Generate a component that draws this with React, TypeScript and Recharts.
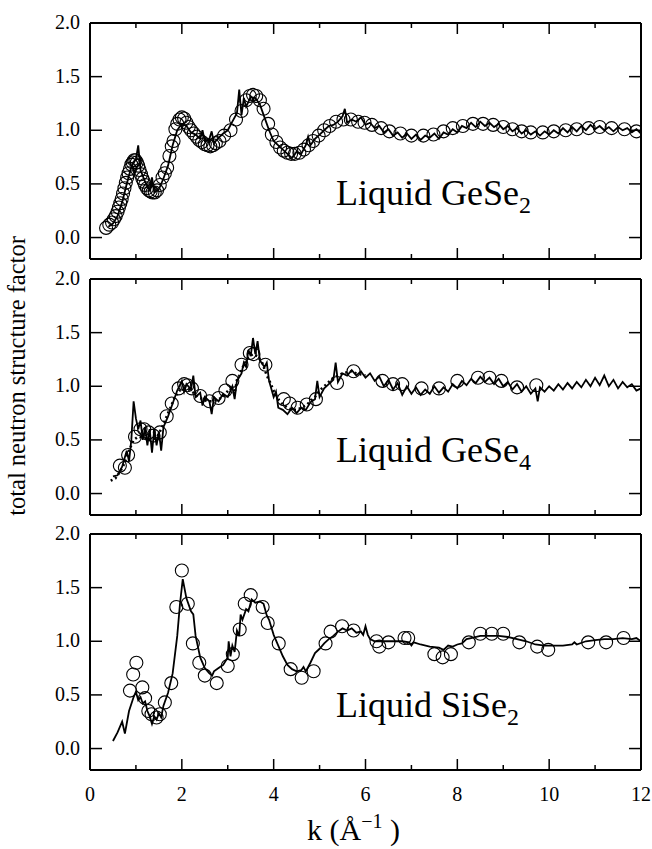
import React from 'react';
import { ComposedChart, Line, Scatter, XAxis, YAxis } from 'recharts';

// k (1/Å) and S(k) pairs
const geSe2Circles: [number, number][] = [
  [0.35, 0.09], [0.42, 0.12], [0.48, 0.14], [0.52, 0.17], [0.56, 0.2], [0.6, 0.24], [0.63, 0.28],
  [0.66, 0.32], [0.69, 0.36], [0.72, 0.41], [0.75, 0.46], [0.78, 0.51], [0.81, 0.56], [0.84, 0.6],
  [0.87, 0.64], [0.9, 0.68], [0.93, 0.7], [0.96, 0.72], [0.99, 0.72], [1.02, 0.7], [1.05, 0.67],
  [1.08, 0.63], [1.11, 0.59], [1.14, 0.55], [1.17, 0.52], [1.2, 0.49], [1.24, 0.46], [1.28, 0.44],
  [1.32, 0.43], [1.36, 0.42], [1.41, 0.42], [1.46, 0.44], [1.52, 0.49], [1.58, 0.56], [1.63, 0.6],
  [1.68, 0.65], [1.73, 0.76], [1.78, 0.85], [1.82, 0.9], [1.86, 1.01], [1.9, 1.06], [1.95, 1.1],
  [2.0, 1.12], [2.05, 1.11], [2.1, 1.07], [2.15, 1.03], [2.2, 1.0], [2.26, 0.97], [2.32, 0.94],
  [2.38, 0.91], [2.44, 0.89], [2.5, 0.87], [2.56, 0.86], [2.62, 0.85], [2.68, 0.86], [2.74, 0.88],
  [2.82, 0.9], [2.92, 0.95], [3.06, 1.0], [3.18, 1.1], [3.3, 1.18], [3.4, 1.28], [3.48, 1.32],
  [3.55, 1.33], [3.62, 1.32], [3.7, 1.28], [3.78, 1.2], [3.88, 1.06], [3.96, 0.96], [4.06, 0.89],
  [4.14, 0.84], [4.22, 0.81], [4.3, 0.79], [4.38, 0.78], [4.46, 0.78], [4.56, 0.79], [4.66, 0.82],
  [4.76, 0.86], [4.86, 0.9], [4.98, 0.95], [5.1, 1.0], [5.22, 1.04], [5.36, 1.08], [5.52, 1.1],
  [5.68, 1.1], [5.84, 1.08], [5.98, 1.07], [6.14, 1.05], [6.34, 1.02], [6.52, 0.99], [6.76, 0.97],
  [7.0, 0.95], [7.26, 0.95], [7.48, 0.96], [7.7, 0.99], [7.9, 1.02], [8.12, 1.04], [8.34, 1.06],
  [8.56, 1.06], [8.78, 1.05], [9.0, 1.03], [9.2, 1.01], [9.4, 0.99], [9.6, 0.98], [9.86, 0.98],
  [10.1, 0.99], [10.36, 1.0], [10.6, 1.01], [10.86, 1.02], [11.1, 1.03], [11.36, 1.02],
  [11.64, 1.01], [11.9, 0.99],
];

const geSe2Line: [number, number][] = [
  [0.4, 0.1], [0.5, 0.13], [0.6, 0.2], [0.7, 0.33], [0.8, 0.5], [0.9, 0.66], [1.0, 0.73], [1.05, 0.86],
  [1.1, 0.63], [1.2, 0.52], [1.3, 0.44], [1.35, 0.56], [1.4, 0.42], [1.5, 0.45], [1.6, 0.55], [1.7, 0.67],
  [1.8, 0.86], [1.9, 1.0], [2.0, 1.06], [2.1, 1.04], [2.2, 0.98], [2.3, 0.96], [2.4, 0.92], [2.45, 1.0],
  [2.5, 0.9], [2.6, 0.92], [2.65, 0.99], [2.7, 0.88], [2.8, 0.93], [2.9, 0.97], [3.0, 1.0], [3.1, 1.08],
  [3.2, 1.16], [3.25, 1.38], [3.3, 1.14], [3.35, 1.3], [3.4, 1.22], [3.5, 1.31], [3.6, 1.3], [3.7, 1.24],
  [3.8, 1.12], [3.9, 1.0], [4.0, 0.9], [4.1, 0.86], [4.2, 0.82], [4.3, 0.78], [4.4, 0.74], [4.5, 0.8],
  [4.6, 0.78], [4.7, 0.86], [4.75, 0.94], [4.8, 0.86], [4.9, 0.92], [5.0, 0.96], [5.1, 1.0], [5.2, 1.04],
  [5.3, 1.05], [5.4, 1.08], [5.5, 1.13], [5.55, 1.2], [5.6, 1.07], [5.7, 1.1], [5.8, 1.08], [5.9, 1.12],
  [6.0, 1.05], [6.1, 1.07], [6.2, 1.02], [6.3, 1.04], [6.4, 0.98], [6.5, 1.01], [6.6, 0.95], [6.7, 0.98],
  [6.8, 0.93], [6.9, 0.97], [7.0, 0.92], [7.1, 0.96], [7.2, 0.91], [7.3, 0.95], [7.4, 0.93], [7.5, 0.97],
  [7.6, 0.92], [7.7, 0.98], [7.8, 0.96], [7.9, 1.01], [8.0, 0.98], [8.1, 1.04], [8.2, 1.02], [8.3, 1.07],
  [8.4, 1.03], [8.5, 1.08], [8.6, 1.04], [8.7, 1.07], [8.8, 1.03], [8.9, 1.06], [9.0, 1.01], [9.1, 1.04],
  [9.2, 0.99], [9.3, 1.02], [9.4, 0.97], [9.5, 1.0], [9.6, 0.96], [9.7, 0.99], [9.8, 0.95], [9.9, 0.99],
  [10.0, 0.96], [10.1, 1.0], [10.2, 0.97], [10.3, 1.02], [10.4, 0.98], [10.5, 1.03], [10.6, 0.99],
  [10.7, 1.04], [10.8, 1.0], [10.9, 1.05], [11.0, 1.01], [11.1, 1.04], [11.2, 1.0], [11.3, 1.03],
  [11.4, 0.99], [11.5, 1.03], [11.6, 1.0], [11.7, 1.02], [11.8, 0.98], [11.9, 1.01], [12.0, 0.97],
];

const geSe4Circles: [number, number][] = [
  [0.65, 0.26], [0.76, 0.24], [0.83, 0.36], [0.98, 0.53], [1.1, 0.6], [1.18, 0.6], [1.28, 0.57],
  [1.38, 0.54], [1.52, 0.57], [1.67, 0.72], [1.78, 0.84], [1.93, 0.98], [2.05, 1.02], [2.12, 1.01],
  [2.22, 0.98], [2.4, 0.91], [2.6, 0.86], [2.8, 0.89], [2.95, 0.96], [3.1, 1.05], [3.3, 1.2],
  [3.48, 1.31], [3.56, 1.3], [3.82, 1.2], [4.22, 0.88], [4.35, 0.84], [4.52, 0.8], [4.72, 0.83],
  [4.92, 0.88], [5.38, 1.03], [5.74, 1.14], [6.37, 1.05], [6.6, 1.02], [6.8, 1.02], [7.22, 0.98],
  [7.6, 0.98], [8.0, 1.05], [8.45, 1.08], [8.7, 1.08], [8.96, 1.05], [9.3, 0.99], [9.72, 1.01],
];

const geSe4Line: [number, number][] = [
  [0.5, 0.16], [0.6, 0.17], [0.7, 0.25], [0.8, 0.4], [0.85, 0.3], [0.9, 0.5], [0.95, 0.86], [1.0, 0.7],
  [1.05, 0.6], [1.1, 0.68], [1.15, 0.5], [1.2, 0.62], [1.25, 0.45], [1.3, 0.6], [1.35, 0.38], [1.4, 0.6],
  [1.45, 0.45], [1.5, 0.58], [1.55, 0.4], [1.6, 0.62], [1.7, 0.72], [1.8, 0.84], [1.9, 0.96], [2.0, 1.05],
  [2.05, 0.95], [2.1, 1.02], [2.2, 0.97], [2.25, 1.1], [2.3, 0.9], [2.4, 0.94], [2.45, 0.82], [2.5, 0.9],
  [2.6, 0.86], [2.65, 0.74], [2.7, 0.9], [2.8, 0.86], [2.9, 0.93], [3.0, 0.9], [3.1, 1.0], [3.15, 0.88],
  [3.2, 1.05], [3.3, 1.12], [3.35, 1.22], [3.4, 1.18], [3.45, 1.34], [3.5, 1.28], [3.55, 1.45], [3.6, 1.3],
  [3.65, 1.42], [3.7, 1.24], [3.8, 1.18], [3.85, 1.22], [3.9, 1.05], [4.0, 0.9], [4.05, 0.95], [4.1, 0.8],
  [4.2, 0.78], [4.3, 0.74], [4.4, 0.8], [4.5, 0.75], [4.6, 0.8], [4.7, 0.78], [4.8, 0.85], [4.9, 0.88],
  [4.95, 1.05], [5.0, 0.9], [5.1, 0.98], [5.2, 1.02], [5.3, 1.06], [5.35, 1.22], [5.4, 1.04], [5.5, 1.12],
  [5.6, 1.1], [5.7, 1.15], [5.8, 1.1], [5.9, 1.14], [6.0, 1.08], [6.1, 1.12], [6.2, 1.05], [6.3, 1.09],
  [6.4, 1.0], [6.5, 1.06], [6.6, 0.97], [6.7, 1.03], [6.8, 0.92], [6.9, 1.0], [7.0, 0.93], [7.1, 0.99],
  [7.2, 0.92], [7.3, 0.97], [7.4, 0.93], [7.5, 1.0], [7.6, 0.94], [7.7, 0.99], [7.8, 0.95], [7.9, 1.02],
  [8.0, 0.98], [8.1, 1.05], [8.2, 1.01], [8.3, 1.07], [8.4, 1.03], [8.5, 1.09], [8.6, 1.04], [8.7, 1.08],
  [8.8, 1.02], [8.9, 1.07], [9.0, 1.0], [9.1, 1.04], [9.2, 0.97], [9.3, 1.02], [9.4, 0.95], [9.5, 1.0],
  [9.6, 0.93], [9.7, 0.98], [9.75, 0.86], [9.8, 0.99], [9.9, 0.95], [10.0, 1.0], [10.1, 0.96], [10.2, 1.02],
  [10.3, 0.97], [10.4, 1.03], [10.5, 0.98], [10.6, 1.04], [10.7, 0.99], [10.8, 1.06], [10.9, 1.0],
  [11.0, 1.08], [11.1, 1.01], [11.2, 1.1], [11.3, 1.0], [11.4, 1.06], [11.5, 0.98], [11.6, 1.04],
  [11.7, 0.99], [11.8, 1.02], [11.9, 0.96], [12.0, 0.98],
];

const geSe4Dotted: [number, number][] = [
  [0.45, 0.12], [0.55, 0.14], [0.65, 0.2], [0.75, 0.28], [0.85, 0.4], [0.95, 0.5], [1.05, 0.53],
  [1.15, 0.52], [1.25, 0.5], [1.35, 0.5], [1.45, 0.52], [1.55, 0.6], [1.65, 0.7], [1.75, 0.8],
  [1.85, 0.9], [1.95, 0.96], [2.05, 0.98], [2.15, 0.97], [2.25, 0.94], [2.35, 0.9], [2.45, 0.88],
  [2.55, 0.86], [2.65, 0.86], [2.75, 0.87], [2.85, 0.89], [2.95, 0.93], [3.05, 0.98], [3.15, 0.93],
  [3.2, 1.06], [3.25, 1.1], [3.35, 1.2], [3.45, 1.27], [3.55, 1.3], [3.65, 1.28], [3.75, 1.22],
  [3.85, 1.1], [3.92, 1.04], [4.0, 0.96], [4.1, 0.88], [4.2, 0.83], [4.3, 0.8], [4.4, 0.78],
  [4.5, 0.78], [4.6, 0.8], [4.7, 0.82], [4.8, 0.86], [4.9, 0.9], [5.0, 0.96], [5.1, 1.0], [5.2, 1.04],
  [5.3, 1.08], [5.4, 1.1], [5.5, 1.12], [5.6, 1.13], [5.7, 1.14], [5.8, 1.12], [5.9, 1.11], [6.0, 1.1],
];

const siSe2Circles: [number, number][] = [
  [0.87, 0.54], [0.94, 0.69], [1.01, 0.8], [1.14, 0.57], [1.2, 0.47], [1.27, 0.35], [1.34, 0.32],
  [1.45, 0.29], [1.52, 0.32], [1.63, 0.43], [1.77, 0.61], [1.88, 1.32], [2.0, 1.66], [2.13, 1.35],
  [2.24, 0.98], [2.38, 0.8], [2.5, 0.68], [2.76, 0.61], [3.0, 0.77], [3.11, 0.88], [3.26, 1.11],
  [3.37, 1.35], [3.5, 1.43], [3.76, 1.32], [3.87, 1.17], [4.11, 0.98], [4.37, 0.74], [4.61, 0.66],
  [4.87, 0.72], [5.13, 0.98], [5.24, 1.09], [5.49, 1.14], [5.74, 1.1], [6.24, 1.0], [6.3, 0.95],
  [6.5, 0.99], [6.85, 1.03], [6.93, 1.03], [7.5, 0.88], [7.68, 0.85], [7.86, 0.88], [8.25, 0.99],
  [8.5, 1.07], [8.75, 1.07], [9.0, 1.07], [9.35, 0.99], [9.74, 0.95], [9.98, 0.92], [10.85, 0.99],
  [11.24, 0.99], [11.62, 1.03],
];

const siSe2Line: [number, number][] = [
  [0.5, 0.07], [0.6, 0.15], [0.7, 0.25], [0.76, 0.14], [0.85, 0.35], [0.95, 0.48], [1.0, 0.53],
  [1.05, 0.45], [1.1, 0.48], [1.15, 0.42], [1.2, 0.44], [1.25, 0.35], [1.3, 0.3], [1.35, 0.23], [1.4, 0.3],
  [1.45, 0.27], [1.5, 0.33], [1.55, 0.29], [1.6, 0.4], [1.7, 0.52], [1.8, 0.7], [1.9, 1.05], [1.96, 1.35],
  [2.02, 1.58], [2.1, 1.4], [2.2, 1.28], [2.25, 1.25], [2.3, 1.05], [2.4, 0.85], [2.5, 0.75], [2.6, 0.7],
  [2.66, 0.68], [2.7, 0.72], [2.8, 0.75], [2.9, 0.78], [3.0, 0.85], [3.02, 1.0], [3.06, 0.86], [3.1, 0.96],
  [3.15, 0.9], [3.2, 1.1], [3.25, 1.05], [3.28, 1.25], [3.32, 1.2], [3.4, 1.3], [3.45, 1.28], [3.52, 1.39],
  [3.6, 1.36], [3.7, 1.37], [3.78, 1.35], [3.85, 1.24], [3.9, 1.2], [4.0, 1.06], [4.1, 0.96], [4.2, 0.86],
  [4.3, 0.78], [4.4, 0.74], [4.5, 0.72], [4.6, 0.73], [4.65, 0.76], [4.7, 0.72], [4.8, 0.8], [4.9, 0.89],
  [5.0, 0.93], [5.1, 0.98], [5.2, 1.02], [5.3, 1.05], [5.4, 1.09], [5.5, 1.12], [5.6, 1.1], [5.7, 1.12],
  [5.8, 1.08], [5.9, 1.09], [5.95, 1.06], [6.0, 1.14], [6.05, 1.06], [6.1, 1.02], [6.2, 1.0], [6.4, 1.0],
  [6.6, 1.0], [6.8, 1.0], [6.95, 0.99], [7.0, 0.96], [7.05, 0.99], [7.2, 0.97], [7.4, 0.95], [7.6, 0.94],
  [7.7, 0.92], [7.8, 0.96], [7.9, 0.95], [8.0, 0.97], [8.1, 0.98], [8.2, 1.02], [8.3, 1.03], [8.5, 1.05],
  [8.7, 1.05], [8.9, 1.05], [9.1, 1.04], [9.3, 1.02], [9.5, 1.0], [9.7, 0.97], [9.9, 0.96], [10.1, 0.96],
  [10.3, 0.96], [10.5, 0.97], [10.55, 0.99], [10.6, 0.97], [10.8, 1.0], [11.0, 1.01], [11.2, 1.02],
  [11.4, 1.02], [11.6, 1.03], [11.8, 1.02], [11.9, 1.03], [12.0, 1.0],
];

const kTicks = [0, 1, 2, 3, 4, 5, 6, 7, 8, 9, 10, 11, 12];
const sTicks = [0, 0.5, 1.0, 1.5, 2.0];

const FONT = '"Liberation Serif", "Times New Roman", serif';
const toPts = (arr: [number, number][]) => arr.map(([k, s]) => ({ k, s }));

const ringShape = (props: any) => (
  <circle cx={props.cx} cy={props.cy} r={6.5} fill="none" stroke="#000" strokeWidth={1.1} />
);

// axes get 1px of room (0 makes recharts skip them), so margins are trimmed by 1
const bottomTick = (withLabel: boolean) => (props: any) => {
  const { x, y, payload } = props;
  const major = payload.value % 2 === 0;
  return (
    <g>
      <line x1={x} x2={x} y1={y} y2={y - (major ? 11 : 5)} stroke="#000" strokeWidth={1.5} />
      {withLabel && major && (
        <text x={x} y={y + 31} textAnchor="middle" fontSize={20} fontFamily={FONT} fill="#000">
          {payload.value}
        </text>
      )}
    </g>
  );
};

const topTick = (props: any) => {
  const { x, y, payload } = props;
  const major = payload.value % 2 === 0;
  return <line x1={x} x2={x} y1={y} y2={y + (major ? 11 : 5)} stroke="#000" strokeWidth={1.5} />;
};

const leftTick = (props: any) => {
  const { x, y, payload } = props;
  return (
    <g>
      <line x1={x} x2={x + 12} y1={y} y2={y} stroke="#000" strokeWidth={1.5} />
      <text x={x - 10} y={y + 6} textAnchor="end" fontSize={20} fontFamily={FONT} fill="#000">
        {Number(payload.value).toFixed(1)}
      </text>
    </g>
  );
};

const rightTick = (props: any) => {
  const { x, y } = props;
  return <line x1={x} x2={x - 12} y1={y} y2={y} stroke="#000" strokeWidth={1.5} />;
};

interface PanelProps {
  top: number;
  height: number;
  margin: { top: number; bottom: number };
  circles: [number, number][];
  line: [number, number][];
  dotted?: [number, number][];
  showKLabels?: boolean;
}

function Panel({ top, height, margin, circles, line, dotted, showKLabels }: PanelProps) {
  const axisLine = { stroke: '#000', strokeWidth: 2 };
  const linePts = toPts(line);
  return (
    <div style={{ position: 'absolute', left: 0, top }}>
      <ComposedChart
        width={652}
        height={height}
        margin={{ top: margin.top - 1, right: 10, bottom: margin.bottom - 1, left: 0 }}
      >
        <XAxis
          dataKey="k"
          type="number"
          domain={[0, 12]}
          ticks={kTicks}
          interval={0}
          allowDataOverflow
          height={1}
          tickSize={0}
          tickMargin={0}
          tickLine={false}
          axisLine={axisLine}
          tick={bottomTick(!!showKLabels)}
        />
        <XAxis
          xAxisId="top"
          dataKey="k"
          orientation="top"
          type="number"
          domain={[0, 12]}
          ticks={kTicks}
          interval={0}
          allowDataOverflow
          height={1}
          tickSize={0}
          tickMargin={0}
          tickLine={false}
          axisLine={axisLine}
          tick={topTick}
        />
        <YAxis
          dataKey="s"
          type="number"
          domain={[-0.2, 2]}
          ticks={sTicks}
          interval={0}
          allowDataOverflow
          width={90}
          tickSize={0}
          tickMargin={0}
          tickLine={false}
          axisLine={axisLine}
          tick={leftTick}
        />
        <YAxis
          yAxisId="r"
          dataKey="s"
          orientation="right"
          type="number"
          domain={[-0.2, 2]}
          ticks={sTicks}
          interval={0}
          allowDataOverflow
          width={1}
          tickSize={0}
          tickMargin={0}
          tickLine={false}
          axisLine={axisLine}
          tick={rightTick}
        />
        {/* same curve bound to the mirror axes so their ticks get a scale; drawn invisible */}
        <Line
          data={linePts}
          dataKey="s"
          xAxisId="top"
          yAxisId="r"
          stroke="none"
          dot={false}
          activeDot={false}
          isAnimationActive={false}
        />
        {dotted && (
          <Line
            data={toPts(dotted)}
            dataKey="s"
            type="linear"
            stroke="#000"
            strokeWidth={2.5}
            strokeDasharray="2 3"
            dot={false}
            isAnimationActive={false}
          />
        )}
        <Line
          data={linePts}
          dataKey="s"
          type="linear"
          stroke="#000"
          strokeWidth={1.8}
          dot={false}
          isAnimationActive={false}
        />
        <Scatter data={toPts(circles)} dataKey="s" shape={ringShape} isAnimationActive={false} />
      </ComposedChart>
    </div>
  );
}

function PanelLabel({ x, y, name, sub }: { x: number; y: number; name: string; sub: string }) {
  return (
    <text x={x} y={y} fontSize={36} fontFamily={FONT} fill="#000">
      {name}
      <tspan dy={8} fontSize={24}>{sub}</tspan>
    </text>
  );
}

export default function App() {
  return (
    <div style={{ position: 'absolute', left: 0, top: 0, width: 652, height: 849, background: '#fff' }}>
      <Panel top={0} height={280} margin={{ top: 23, bottom: 21 }} circles={geSe2Circles} line={geSe2Line} />
      <Panel
        top={260}
        height={275}
        margin={{ top: 19, bottom: 20 }}
        circles={geSe4Circles}
        line={geSe4Line}
        dotted={geSe4Dotted}
      />
      <Panel
        top={515}
        height={334}
        margin={{ top: 19, bottom: 79 }}
        circles={siSe2Circles}
        line={siSe2Line}
        showKLabels
      />
      <svg
        width={652}
        height={849}
        style={{ position: 'absolute', left: 0, top: 0, pointerEvents: 'none' }}
      >
        <PanelLabel x={336} y={205} name="Liquid GeSe" sub="2" />
        <PanelLabel x={336} y={462} name="Liquid GeSe" sub="4" />
        <PanelLabel x={336} y={717} name="Liquid SiSe" sub="2" />
        <text
          x={25}
          y={376}
          transform="rotate(-90, 25, 376)"
          textAnchor="middle"
          fontSize={24.5}
          fontFamily={FONT}
          fill="#000"
        >
          total neutron structure factor
        </text>
        <text x={307} y={840} fontSize={30} fontFamily={FONT} fill="#000">
          k (Å
          <tspan dy={-12} fontSize={20}>−1</tspan>
          <tspan dy={12}> )</tspan>
        </text>
      </svg>
    </div>
  );
}
